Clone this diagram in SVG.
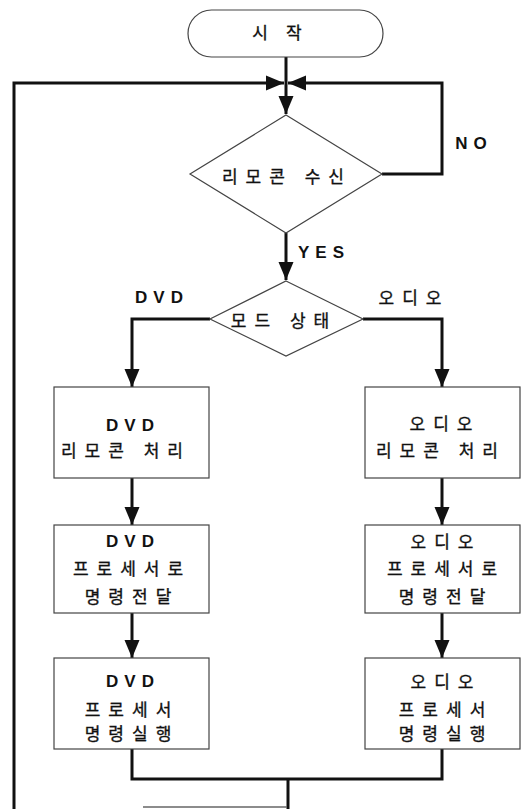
<svg xmlns="http://www.w3.org/2000/svg" width="522" height="809" viewBox="0 0 522 809">
<style>
.shape{fill:#fff;stroke:#444;stroke-width:1.2}
.conn{fill:none;stroke:#111;stroke-width:3}
.ko{font-family:"Noto Sans CJK KR","Noto Sans",sans-serif;font-size:17px;fill:#111;stroke:#111;stroke-width:0.35;text-anchor:middle;letter-spacing:8px}
.en{font-family:"Liberation Sans",Arial,sans-serif;font-weight:bold;font-size:17px;fill:#111;text-anchor:middle;letter-spacing:6px}
</style>
<defs>
<marker id="arr" markerUnits="userSpaceOnUse" markerWidth="19" markerHeight="16" refX="18" refY="8" orient="auto">
<path d="M0,0.5 L18,8 L0,15.5 z" fill="#111"/>
</marker>
</defs>
<rect width="522" height="809" fill="#fff"/>
<g id="connectors">
<path class="conn" d="M286,57 V114" marker-end="url(#arr)"/>
<path class="conn" d="M14,809 V83 H284" marker-end="url(#arr)"/>
<path class="conn" d="M382,174 H442 V83 H288" marker-end="url(#arr)"/>
<path class="conn" d="M286,233 V280" marker-end="url(#arr)"/>
<path class="conn" d="M210,319 H132 V387" marker-end="url(#arr)"/>
<path class="conn" d="M363,319 H442 V387" marker-end="url(#arr)"/>
<path class="conn" d="M132,478 V525" marker-end="url(#arr)"/>
<path class="conn" d="M442,478 V525" marker-end="url(#arr)"/>
<path class="conn" d="M132,613 V658" marker-end="url(#arr)"/>
<path class="conn" d="M442,613 V658" marker-end="url(#arr)"/>
<path class="conn" d="M132,749 V779 H442 V749"/>
<path class="conn" d="M288,779 V809"/>
<path d="M143,807 H287" fill="none" stroke="#666" stroke-width="1.5"/>
<text class="en" x="474" y="149">NO</text>
<text class="en" x="324" y="258">YES</text>
<text class="en" x="162" y="303">DVD</text>
<text class="ko" x="414" y="304">오디오</text>
</g>
<g id="start">
<rect class="shape" x="188" y="10" width="195" height="47" rx="23.5"/>
<text class="ko" x="286" y="39" style="letter-spacing:18px">시작</text>
</g>
<g id="receive">
<polygon class="shape" points="286,115 382,174 286,233 190,174"/>
<text class="ko" x="287" y="183">리모콘 수신</text>
</g>
<g id="mode">
<polygon class="shape" points="286,281 363,319 286,356 210,319"/>
<text class="ko" x="284" y="327">모드 상태</text>
</g>
<g id="dvd1">
<rect class="shape" x="54" y="387" width="155" height="91"/>
<text class="en" x="133" y="431">DVD</text>
<text class="ko" x="126" y="457">리모콘 처리</text>
</g>
<g id="aud1">
<rect class="shape" x="365" y="387" width="155" height="91"/>
<text class="ko" x="445" y="430">오디오</text>
<text class="ko" x="441" y="457">리모콘 처리</text>
</g>
<g id="dvd2">
<rect class="shape" x="54" y="525" width="155" height="88"/>
<text class="en" x="133" y="547">DVD</text>
<text class="ko" x="132" y="575">프로세서로</text>
<text class="ko" x="132" y="603">명령전달</text>
</g>
<g id="aud2">
<rect class="shape" x="365" y="525" width="155" height="88"/>
<text class="ko" x="446" y="548">오디오</text>
<text class="ko" x="446" y="575">프로세서로</text>
<text class="ko" x="446" y="603">명령전달</text>
</g>
<g id="dvd3">
<rect class="shape" x="54" y="658" width="155" height="91"/>
<text class="en" x="133" y="687">DVD</text>
<text class="ko" x="132" y="716">프로세서</text>
<text class="ko" x="132" y="740">명령실행</text>
</g>
<g id="aud3">
<rect class="shape" x="365" y="658" width="155" height="91"/>
<text class="ko" x="446" y="688">오디오</text>
<text class="ko" x="446" y="716">프로세서</text>
<text class="ko" x="446" y="740">명령실행</text>
</g>
</svg>
